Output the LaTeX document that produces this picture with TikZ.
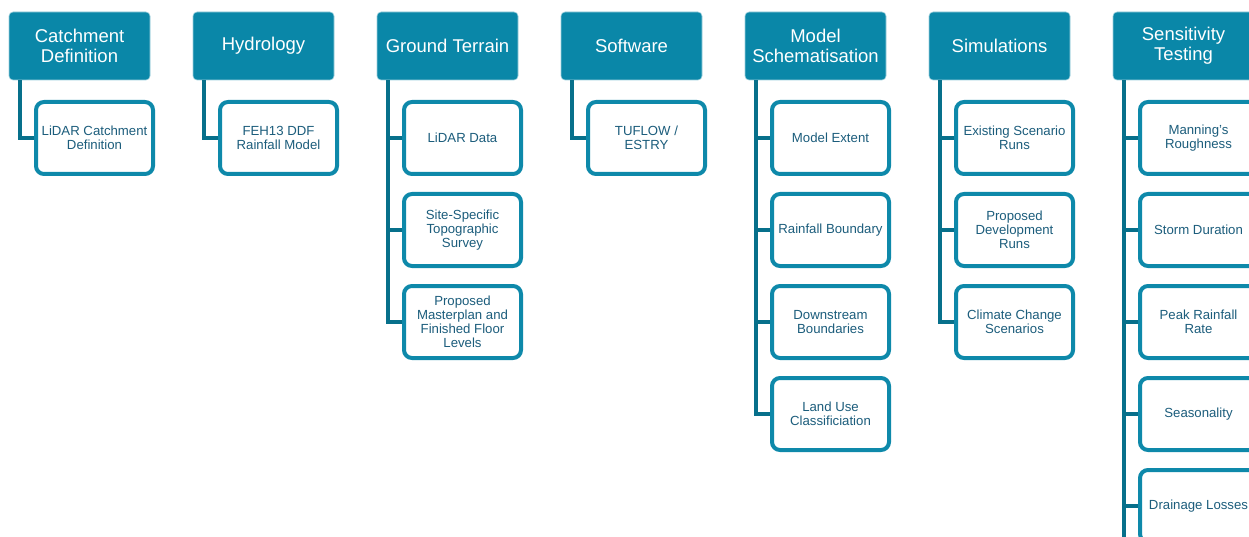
\documentclass[tikz,border=0pt]{standalone}
\usepackage{fontspec}
\setmainfont{Liberation Sans}
\usepackage{tikz}

\definecolor{headfill}{HTML}{0A87A8}
\definecolor{boxline}{HTML}{0E89AA}
\definecolor{linkline}{HTML}{07708B}
\definecolor{boxtext}{HTML}{1C5D7C}

\tikzset{
  head/.style={rectangle, rounded corners=4pt, fill=headfill, draw=headfill!40, line width=0.6pt,
    minimum width=141pt, minimum height=68pt, text=white, align=center,
    font=\fontsize{18.5}{20}\selectfont, inner sep=0pt},
  item/.style={rectangle, rounded corners=8pt, fill=white, draw=boxline, line width=4pt,
    minimum width=117pt, minimum height=72pt, text=boxtext, align=center,
    font=\fontsize{13.2}{14}\selectfont, inner sep=0pt},
  link/.style={draw=linkline, line width=4pt}
}

\begin{document}
\begin{tikzpicture}[x=1pt, y=-1pt]
  \useasboundingbox (0,0) rectangle (1249,537);
  \clip (0,0) rectangle (1249,537);

  \node[head] (h1) at (79.5, 46) {Catchment\\Definition};
  \node[head] (h2) at (263.5, 46) {Hydrology};
  \node[head] (h3) at (447.5, 46) {Ground Terrain};
  \node[head] (h4) at (631.5, 46) {Software};
  \node[head] (h5) at (815.5, 46) {Model\\Schematisation};
  \node[head] (h6) at (999.5, 46) {Simulations};
  \node[head] (h7) at (1183.5, 46) {Sensitivity\\Testing};

  \node[item] (a1) at (94.5, 138) {LiDAR Catchment\\Definition};

  \node[item] (b1) at (278.5, 138) {FEH13 DDF\\Rainfall Model};

  \node[item] (c1) at (462.5, 138) {LiDAR Data};
  \node[item] (c2) at (462.5, 230) {Site-Specific\\Topographic\\Survey};
  \node[item] (c3) at (462.5, 322) {Proposed\\Masterplan and\\Finished Floor\\Levels};

  \node[item] (d1) at (646.5, 138) {TUFLOW /\\ESTRY};

  \node[item] (e1) at (830.5, 138) {Model Extent};
  \node[item] (e2) at (830.5, 230) {Rainfall Boundary};
  \node[item] (e3) at (830.5, 322) {Downstream\\Boundaries};
  \node[item] (e4) at (830.5, 414) {Land Use\\Classificiation};

  \node[item] (f1) at (1014.5, 138) {Existing Scenario\\Runs};
  \node[item] (f2) at (1014.5, 230) {Proposed\\Development\\Runs};
  \node[item] (f3) at (1014.5, 322) {Climate Change\\Scenarios};

  \node[item] (g1) at (1198.5, 138) {Manning's\\Roughness};
  \node[item] (g2) at (1198.5, 230) {Storm Duration};
  \node[item] (g3) at (1198.5, 322) {Peak Rainfall\\Rate};
  \node[item] (g4) at (1198.5, 414) {Seasonality};
  \node[item] (g5) at (1198.5, 506) {Drainage Losses};

  % connectors from each header down the left side
  \draw[link] ([xshift=11pt]h1.south west) |- (a1.west);
  \draw[link] ([xshift=11pt]h2.south west) |- (b1.west);
  \draw[link] ([xshift=11pt]h3.south west) |- (c1.west);
  \draw[link] ([xshift=11pt]h3.south west) |- (c2.west);
  \draw[link] ([xshift=11pt]h3.south west) |- (c3.west);
  \draw[link] ([xshift=11pt]h4.south west) |- (d1.west);
  \draw[link] ([xshift=11pt]h5.south west) |- (e1.west);
  \draw[link] ([xshift=11pt]h5.south west) |- (e2.west);
  \draw[link] ([xshift=11pt]h5.south west) |- (e3.west);
  \draw[link] ([xshift=11pt]h5.south west) |- (e4.west);
  \draw[link] ([xshift=11pt]h6.south west) |- (f1.west);
  \draw[link] ([xshift=11pt]h6.south west) |- (f2.west);
  \draw[link] ([xshift=11pt]h6.south west) |- (f3.west);
  \draw[link] ([xshift=11pt]h7.south west) |- (g1.west);
  \draw[link] ([xshift=11pt]h7.south west) |- (g2.west);
  \draw[link] ([xshift=11pt]h7.south west) |- (g3.west);
  \draw[link] ([xshift=11pt]h7.south west) |- (g4.west);
  \draw[link] ([xshift=11pt]h7.south west) |- (g5.west);
  \draw[link] ([xshift=11pt]h7.south west) -- ++(0,470);
\end{tikzpicture}
\end{document}
